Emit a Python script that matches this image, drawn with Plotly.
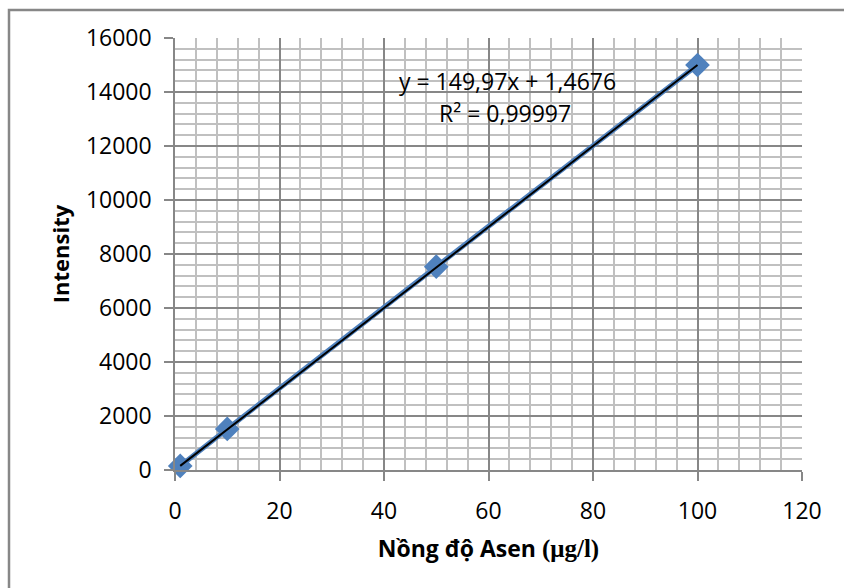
import plotly.graph_objects as go

# Data
conc = [1, 10, 50, 100]
intensity = [150, 1520, 7530, 15000]
slope = 149.97
intercept = 1.4676
eq_text = "y = 149,97x + 1,4676"
r2_text = "R² = 0,99997"

FONT = "Open Sans"
BLUE = "#4F81BD"

fit_x = [min(conc), max(conc)]
fit_y = [slope * x + intercept for x in fit_x]

fig = go.Figure()
fig.add_trace(go.Scatter(
    x=conc, y=intensity, mode="lines+markers",
    line=dict(color=BLUE, width=5),
    marker=dict(symbol="diamond", size=19, color=BLUE),
    cliponaxis=False, showlegend=False,
))
fig.add_trace(go.Scatter(
    x=fit_x, y=fit_y, mode="lines",
    line=dict(color="black", width=2),
    showlegend=False,
))

fig.update_layout(
    width=844, height=588,
    margin=dict(l=175, r=42, t=38, b=118),
    paper_bgcolor="white", plot_bgcolor="white",
    font=dict(family=FONT, size=22, color="black"),
    shapes=[dict(type="rect", xref="paper", yref="paper",
                 x0=-175/627 + 9/627, x1=1.5, y0=-1, y1=1 + 28/432,
                 line=dict(color="#878787", width=2.5), layer="below")],
)
px_per_x = 627 / 120
px_per_y = 432 / 16000
def to_data(px, py):
    return ((px - 175) / px_per_x, (470 - py) / px_per_y)
ex, ey = to_data(507, 81)
rx, ry = to_data(505, 113)
fig.add_annotation(x=ex, y=ey, text=eq_text, showarrow=False,
                   font=dict(size=23), xanchor="center", yanchor="middle")
fig.add_annotation(x=rx, y=ry, text=r2_text, showarrow=False,
                   font=dict(size=23), xanchor="center", yanchor="middle")

fig.update_xaxes(
    range=[0, 120], dtick=20, tick0=0, tickformat="d",
    showgrid=True, gridcolor="#878787", gridwidth=1.5,
    minor=dict(dtick=4, showgrid=True, gridcolor="#C0C0C0", gridwidth=1.5),
    showline=True, linecolor="#878787", linewidth=1.5, mirror=False,
    ticks="outside", ticklen=9, tickcolor="#878787", tickwidth=1.5,
    ticklabelstandoff=11,
    zeroline=False,
    title=dict(text="<b>Nồng độ Asen <span style='font-family:Liberation Serif;font-size:25px'>(μg/l)</span></b>",
               font=dict(size=23), standoff=16),
    tickfont=dict(size=23),
)
fig.update_yaxes(
    range=[0, 16000], dtick=2000, tick0=0, tickformat="d",
    showgrid=True, gridcolor="#878787", gridwidth=1.5,
    minor=dict(dtick=400, showgrid=True, gridcolor="#C0C0C0", gridwidth=1.5),
    showline=True, linecolor="#878787", linewidth=1.5,
    ticks="outside", ticklen=9, tickcolor="#878787", tickwidth=1.5,
    ticklabelstandoff=8,
    zeroline=False,
    title=dict(text="<b>Intensity</b>", font=dict(size=22), standoff=10),
    tickfont=dict(size=23),
)

fig.write_html("out.html")
